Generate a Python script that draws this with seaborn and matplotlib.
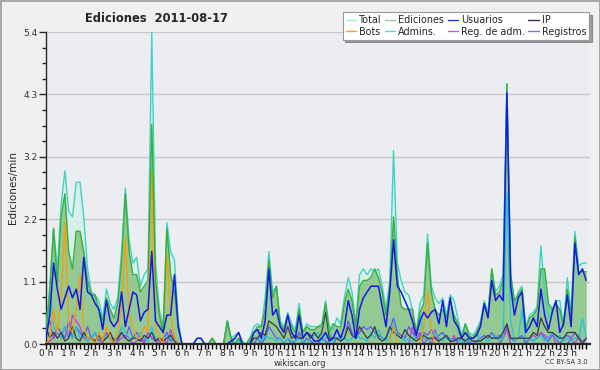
import numpy as np
import matplotlib
matplotlib.use("Agg")
import matplotlib.pyplot as plt
from matplotlib.lines import Line2D
import seaborn as sns

# one value every 10 minutes, 0h .. 23h50
slots = [h + m / 60 for h in range(24) for m in range(0, 60, 10)]

total = [
    0.3, 1.0, 2.0, 1.3, 2.4, 3.0,
    2.3, 2.2, 2.8, 2.8, 2.2, 1.3,
    0.9, 0.85, 0.75, 0.45, 0.95, 0.7,
    0.6, 0.8, 1.6, 2.7, 1.8, 1.4,
    1.5, 1.0, 1.2, 1.3, 5.4, 1.4,
    0.6, 0.3, 2.1, 1.6, 1.45, 0.4,
    0, 0, 0, 0, 0.1, 0.1,
    0, 0, 0.1, 0, 0, 0,
    0.4, 0.1, 0.15, 0.2, 0.05, 0,
    0.1, 0.3, 0.35, 0.3, 0.8, 1.6,
    0.9, 1.0, 0.4, 0.3, 0.55, 0.35,
    0.25, 0.7, 0.2, 0.35, 0.3, 0.3,
    0.3, 0.35, 0.75, 0.3, 0.25, 0.45,
    0.35, 0.8, 1.15, 0.9, 0.35, 1.2,
    1.3, 1.2, 1.3, 1.25, 1.3, 1.0,
    0.6, 1.1, 3.35, 1.4, 1.1, 0.9,
    0.85, 0.6, 0.2, 0.7, 0.85, 1.9,
    1.0, 0.8, 0.7, 0.8, 0.5, 0.85,
    0.75, 0.45, 0.15, 0.35, 0.2, 0.15,
    0.25, 0.4, 0.75, 0.55, 1.3, 0.9,
    1.0, 1.2, 4.5, 1.2, 0.7, 0.9,
    1.0, 0.3, 0.5, 0.55, 0.65, 1.7,
    0.9, 0.45, 0.6, 0.75, 0.75, 0.35,
    1.15, 0.55, 1.95, 1.35, 1.4, 1.4,
]

ediciones = [
    0.2, 0.9, 2.0, 1.05, 2.2, 2.6,
    1.6, 1.3, 1.95, 1.95, 1.6, 1.1,
    0.85, 0.85, 0.6, 0.4, 0.8, 0.6,
    0.45, 0.7, 1.4, 2.6, 1.6, 1.2,
    1.2, 0.9, 1.0, 1.1, 3.8, 1.1,
    0.5, 0.2, 2.0, 1.2, 0.9, 0.3,
    0, 0, 0, 0, 0, 0,
    0, 0, 0.1, 0, 0, 0,
    0.4, 0.1, 0, 0.1, 0, 0,
    0.1, 0.2, 0.3, 0.3, 0.6, 1.45,
    0.8, 1.0, 0.35, 0.25, 0.5, 0.3,
    0.2, 0.6, 0.2, 0.3, 0.25, 0.25,
    0.3, 0.3, 0.7, 0.2, 0.35, 0.3,
    0.3, 0.7, 0.95, 0.75, 0.3, 1.0,
    1.1, 1.1, 1.15, 1.3, 1.15, 0.9,
    0.5, 1.0, 2.2, 1.2, 0.65, 0.6,
    0.6, 0.6, 0.2, 0.55, 0.7, 1.75,
    0.9, 0.6, 0.5, 0.6, 0.45, 0.75,
    0.5, 0.35, 0.1, 0.35, 0.15, 0.1,
    0.2, 0.35, 0.65, 0.5, 1.3, 0.85,
    0.9, 1.1, 4.5, 1.2, 0.75, 0.85,
    0.95, 0.25, 0.45, 0.5, 0.6, 1.3,
    1.3, 0.7, 0.6, 0.7, 0.6, 0.3,
    0.95, 0.5, 1.85, 1.25, 1.25, 1.25,
]

usuarios = [
    0.1, 0.5, 1.4, 0.95, 0.6, 0.8,
    1.0, 0.8, 0.95, 0.6, 1.5, 0.9,
    0.85, 0.7, 0.6, 0.25, 0.75, 0.4,
    0.3, 0.4, 0.9, 0.3, 0.6, 0.9,
    0.85, 0.4, 0.55, 0.6, 1.6, 0.4,
    0.3, 0.2, 0.5, 0.5, 1.2, 0.3,
    0, 0, 0, 0, 0.1, 0.1,
    0, 0, 0, 0, 0, 0,
    0, 0.05, 0.1, 0.2, 0, 0,
    0, 0.2, 0.25, 0.1, 0.4, 1.3,
    0.5, 0.6, 0.3, 0.2, 0.5, 0.2,
    0.1, 0.5, 0.1, 0.2, 0.15, 0.05,
    0.05, 0.1, 0.2, 0.05, 0.1, 0.25,
    0.1, 0.3, 0.75, 0.5, 0.1, 0.6,
    0.8, 0.9, 1.0, 1.0, 1.0, 0.65,
    0.3, 0.9, 1.8, 1.0, 0.9, 0.75,
    0.6, 0.4, 0.15, 0.4, 0.55, 0.45,
    0.55, 0.6, 0.35, 0.75, 0.3, 0.8,
    0.4, 0.3, 0.1, 0.2, 0.1, 0.1,
    0.15, 0.3, 0.7, 0.45, 1.1, 0.75,
    0.85, 0.75, 4.35, 1.0, 0.5, 0.8,
    0.9, 0.2, 0.3, 0.45, 0.3, 0.95,
    0.5, 0.25, 0.55, 0.75, 0.2, 0.35,
    0.85, 0.3, 1.75, 1.2, 1.3, 1.1,
]

ip = [
    0.3, 0.1, 0.2, 0.1, 0.2, 0.05,
    0.1, 0.3, 0.1, 0.05, 0.2, 0.1,
    0.1, 0.05, 0.15, 0.05, 0.1, 0.2,
    0.05, 0.1, 0.2, 0.1, 0.05, 0.1,
    0.1, 0.05, 0.15, 0.1, 0.2, 0.05,
    0.1, 0.05, 0.1, 0.15, 0.05, 0,
    0, 0, 0, 0, 0, 0,
    0, 0, 0.1, 0, 0, 0,
    0.38, 0.1, 0, 0, 0, 0,
    0, 0.1, 0.1, 0.2, 0.15, 0.4,
    0.35, 0.3, 0.2, 0.1, 0.3, 0.1,
    0.15, 0.1, 0.1, 0.2, 0.1, 0.2,
    0.1, 0.2, 0.55, 0.1, 0.1, 0.1,
    0.05, 0.1, 0.3, 0.15, 0.1, 0.3,
    0.2, 0.1, 0.15, 0.3, 0.1, 0.05,
    0.1, 0.3, 0.2, 0.15, 0.1, 0.25,
    0.15, 0.1, 0.05, 0.1, 0.15, 0.1,
    0.1, 0.1, 0.05, 0.1, 0.15, 0.05,
    0.05, 0.1, 0.1, 0.05, 0.1, 0.05,
    0.05, 0.05, 0.1, 0.15, 0.1, 0.1,
    0.1, 0.2, 0.35, 0.1, 0.1, 0.1,
    0.1, 0.1, 0.1, 0.2, 0.15, 0.45,
    0.3, 0.2, 0.2, 0.15, 0.1, 0.1,
    0.2, 0.2, 0.2, 0.1, 0, 0.1,
]

bots = [
    0, 0.1, 0.6, 0.2, 0.8, 2.1,
    0.3, 0.2, 0.6, 1.2, 0.3, 0.1,
    0.1, 0, 0.2, 0.05, 0.3, 0.1,
    0, 0.2, 0.6, 1.85, 0.5, 0.3,
    0.1, 0.1, 0.3, 0.2, 3.0, 0.3,
    0.1, 0, 1.55, 0.5, 0.1, 0,
    0, 0, 0, 0, 0, 0,
    0, 0, 0, 0, 0, 0,
    0, 0, 0, 0, 0, 0,
    0, 0, 0, 0, 0, 0,
    0, 0, 0, 0, 0, 0,
    0, 0, 0, 0, 0, 0,
    0, 0, 0, 0, 0, 0,
    0, 0, 0, 0, 0, 0,
    0, 0, 0, 0, 0, 0,
    0, 0, 0.3, 0, 0, 0,
    0, 0, 0, 0, 0.3, 0.9,
    0.2, 0, 0, 0, 0, 0,
    0, 0, 0, 0, 0, 0,
    0, 0, 0, 0, 0, 0,
    0, 0, 0, 0, 0, 0,
    0, 0, 0, 0, 0, 0,
    0, 0, 0, 0, 0, 0,
    0, 0, 0, 0, 0, 0,
]

admins = [
    0.1, 0.9, 0.3, 0.2, 0.1, 0.3,
    0.2, 0.1, 0.3, 0.1, 0.15, 0.05,
    0.1, 0.2, 0.1, 0.05, 0.15, 0.1,
    0.05, 0.1, 0.3, 0.2, 0.1, 0.1,
    0.1, 0.2, 0.1, 0.05, 0.3, 0.1,
    0.1, 0.05, 0.15, 0.1, 0.05, 0,
    0, 0, 0, 0, 0, 0,
    0, 0, 0, 0, 0, 0,
    0, 0, 0.1, 0.05, 0, 0,
    0, 0.1, 0.1, 0.05, 0.15, 0.1,
    0.1, 0.05, 0.1, 0, 0.1, 0.05,
    0.05, 0.1, 0.05, 0, 0.1, 0.15,
    0.2, 0.05, 0.1, 0.2, 0.05, 0.1,
    0.15, 0.1, 0.05, 0.1, 0.2, 0.1,
    0.1, 0.05, 0.2, 0.1, 0.25, 0.1,
    0.05, 0.1, 0.35, 0.15, 0.1, 0.05,
    0.1, 0.05, 0.15, 0.5, 0.1, 0.05,
    0.1, 0.2, 0.1, 0.05, 0.15, 0.1,
    0.05, 0.1, 0, 0.1, 0.05, 0.1,
    0.2, 0.05, 0.1, 0.05, 0.1, 0.15,
    0.05, 0.1, 2.6, 0.4, 0.05, 0.1,
    0.6, 0.05, 0.1, 0.05, 0.1, 0.15,
    0.05, 0.1, 0.2, 0.1, 0.15, 0.05,
    0.1, 0.05, 0.1, 0.1, 0.45, 0.1,
]

reg_adm = [
    0, 0.05, 0.1, 0.2, 0.1, 0.3,
    0.1, 0.5, 0.4, 0.3, 0.1, 0.05,
    0.1, 0.05, 0.1, 0, 0.2, 0.1,
    0, 0.05, 0.1, 0.15, 0.1, 0,
    0.05, 0.1, 0, 0.2, 0.1, 0.05,
    0, 0.1, 0, 0.25, 0.05, 0,
    0, 0, 0, 0, 0, 0,
    0, 0, 0, 0, 0, 0,
    0, 0, 0, 0, 0, 0,
    0, 0, 0, 0, 0, 0,
    0, 0, 0, 0, 0, 0,
    0, 0, 0, 0, 0, 0,
    0, 0, 0, 0, 0, 0,
    0, 0, 0, 0, 0, 0,
    0, 0, 0, 0, 0, 0,
    0, 0, 0, 0, 0, 0,
    0, 0.3, 0.1, 0.2, 0, 0.1,
    0, 0.25, 0, 0, 0, 0,
    0.15, 0, 0, 0, 0, 0,
    0, 0, 0, 0, 0, 0,
    0, 0.1, 0.25, 0, 0, 0,
    0, 0, 0.1, 0.15, 0.1, 0.2,
    0.15, 0.1, 0.2, 0, 0, 0,
    0, 0.1, 0, 0.15, 0, 0,
]

registros = [
    0.2, 0.4, 0.1, 0.3, 0.2, 0.1,
    0.4, 0.1, 0.3, 0.2, 0.1, 0.3,
    0.1, 0.2, 0.05, 0.1, 0.2, 0.1,
    0.1, 0.05, 0.2, 0.1, 0.3, 0.1,
    0.2, 0.1, 0.05, 0.2, 0.1, 0.1,
    0.05, 0.1, 0.2, 0.05, 0.1, 0,
    0, 0, 0, 0, 0, 0,
    0, 0, 0, 0, 0, 0,
    0, 0, 0, 0.1, 0, 0,
    0, 0, 0.1, 0, 0.1, 0.3,
    0.2, 0.1, 0.1, 0, 0.1, 0,
    0.05, 0.2, 0, 0.1, 0.05, 0,
    0, 0.1, 0.05, 0, 0, 0.1,
    0.05, 0.1, 0.4, 0.2, 0.1, 0.2,
    0.3, 0.25, 0.3, 0.2, 0.15, 0.1,
    0.1, 0.25, 0.45, 0.2, 0.15, 0.1,
    0.3, 0.2, 0.1, 0.15, 0.2, 0.15,
    0.25, 0.1, 0.15, 0.2, 0.1, 0.05,
    0.1, 0.05, 0.1, 0, 0.05, 0,
    0.05, 0.1, 0.15, 0.1, 0.2, 0.1,
    0.15, 0.1, 0.3, 0.1, 0.05, 0.1,
    0.15, 0, 0.1, 0.05, 0.1, 0.2,
    0.1, 0.05, 0.15, 0.1, 0, 0.1,
    0.15, 0.1, 0.2, 0.1, 0.05, 0.1,
]

hour_labels = [f"{h} h" for h in range(24)]

FIG_BG = "#f0f0f0"
AX_BG = "#ecedf0"

sns.set_style("ticks", rc={"axes.facecolor": AX_BG, "figure.facecolor": FIG_BG})
plt.rcParams["font.family"] = ["DejaVu Sans"]

fig = plt.figure(figsize=(6, 3.7), dpi=100, facecolor=FIG_BG,
                 edgecolor="#a8a8a8", linewidth=2)
ax = fig.add_axes([46 / 600, 26 / 370, 544 / 600, 312 / 370])

# fills first, lines on top
ax.fill_between(slots, total, color="#d6efea", lw=0, zorder=1)
ax.fill_between(slots, ediciones, color="#93c993", lw=0, zorder=2)

series = [
    (registros, "#5a5aff", 0.9),
    (reg_adm, "#c23ae6", 0.9),
    (admins, "#1fc3dc", 0.9),
    (ip, "#3a3a3a", 0.9),
    (bots, "#ff9a00", 0.9),
    (total, "#3fd3c2", 1.0),
    (ediciones, "#3aae3a", 1.0),
    (usuarios, "#1818e6", 1.1),
]
for vals, col, lw in series:
    sns.lineplot(x=slots, y=vals, color=col, lw=lw, ax=ax, zorder=4)

ax.set_xlim(0, 24)
ax.set_ylim(0, 5.4)
yt = np.linspace(0, 5.4, 6)
ax.set_yticks(yt)
ax.set_yticklabels([f"{v:.1f}" for v in yt], fontsize=6.5, color="#333")
ax.set_yticks(np.arange(0, 5.41, 0.27), minor=True)
ax.set_xticks(range(24))
ax.set_xticklabels(hour_labels, fontsize=6.5, color="#222")
ax.set_xticks(slots, minor=True)
ax.tick_params(axis="x", which="both", direction="out", length=3.5, width=1,
               pad=0, color="black")
ax.tick_params(axis="y", which="major", length=5, width=1, pad=1)
ax.tick_params(axis="y", which="minor", length=3, width=1)
ax.grid(axis="y", color="#c8c8c8", lw=1, zorder=0)
ax.set_axisbelow(True)
for s in ["top", "right"]:
    ax.spines[s].set_visible(False)
ax.spines["bottom"].set_linewidth(1.6)
ax.spines["left"].set_linewidth(1)
ax.spines["bottom"].set_zorder(6)
ax.set_xlabel("")
ax.set_ylabel("Ediciones/min", fontsize=7.5, labelpad=4)

fig.text(85 / 600, 1 - 18 / 370, "Ediciones  2011-08-17", fontsize=8.3,
         fontweight="bold", va="center", ha="left")
fig.text(0.5, 1 - 363 / 370, "wikiscan.org", fontsize=6, color="#333",
         ha="center", va="center")
fig.text(588 / 600, 1 - 362 / 370, "CC BY-SA 3.0", fontsize=4.8, color="#333",
         ha="right", va="center")

# legend, column-major order so rows read Total/Ediciones/Usuarios/IP
legend_items = [
    ("Total", "#a8e6e0"), ("Bots", "#ff9a30"),
    ("Ediciones", "#8fd48f"), ("Admins.", "#5ad2e6"),
    ("Usuarios", "#3030e0"), ("Reg. de adm.", "#d050ee"),
    ("IP", "#333333"), ("Registros", "#7878ff"),
]
handles = [Line2D([0], [0], color=c, lw=1) for _, c in legend_items]
labels = [t for t, _ in legend_items]
leg = fig.legend(handles, labels, ncol=4, loc="upper right",
                 bbox_to_anchor=(589 / 600, 1 - 12 / 370), fontsize=6.9,
                 frameon=True, fancybox=False, shadow=True,
                 handlelength=1.1, handletextpad=0.3, columnspacing=0.35,
                 labelspacing=0.2, borderpad=0.3, borderaxespad=0)
leg.get_frame().set_edgecolor("#999999")
leg.get_frame().set_linewidth(0.8)
leg.get_frame().set_facecolor("white")

fig.savefig("out.png", dpi=100, facecolor=FIG_BG, edgecolor=fig.get_edgecolor())
